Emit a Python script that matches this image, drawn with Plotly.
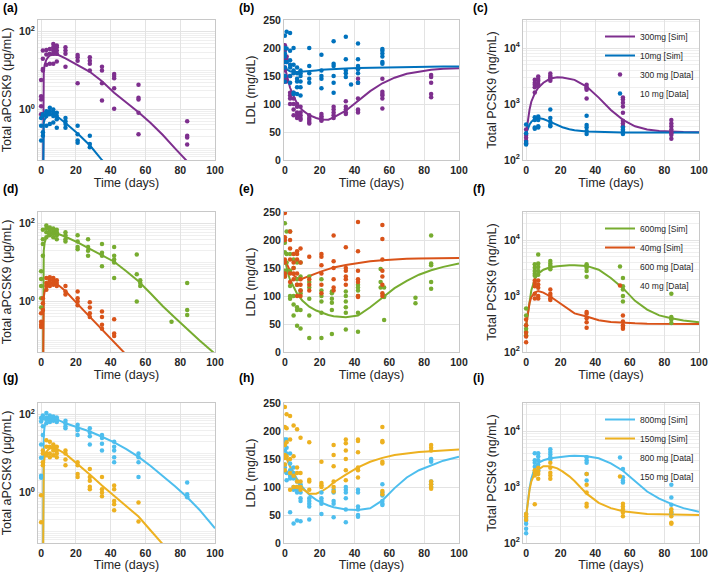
import plotly.graph_objects as go
from plotly.subplots import make_subplots

# ---------------- colours (MATLAB defaults) ----------------
C_PURPLE = "#7E2F8E"
C_BLUE = "#0072BD"
C_GREEN = "#77AC30"
C_ORANGE = "#D95319"
C_LBLUE = "#4DBEEE"
C_YELLOW = "#EDB120"

# ---------------- simulated curves ----------------
SIM_T_A = [0.95, 1.2, 1.5, 2, 3, 4, 5, 7, 10, 14, 21, 28, 35, 42, 49, 56, 63, 70, 77, 84, 91, 100]
SIM_A_300 = [0.001, 5, 9, 14, 19, 22, 24.5, 26, 25, 20.5, 14, 9.3, 5.3, 2.7, 1.5, 0.85, 0.45, 0.22, 0.1, 0.045, 0.02, 0.008]
SIM_A_10 = [0.001, 0.3, 0.45, 0.55, 0.65, 0.72, 0.75, 0.74, 0.62, 0.45, 0.24, 0.12, 0.05, 0.024, 0.01, 0.005, 0.002, 0.001, 0.001, 0.001, 0.001, 0.001]
SIM_A_600 = [0.001, 10, 20, 32, 45, 52, 55, 57, 54, 46, 33, 22.5, 15.5, 10.5, 6, 3.3, 1.6, 0.75, 0.38, 0.19, 0.1, 0.045]
SIM_A_40 = [0.001, 0.8, 1.3, 1.8, 2.4, 2.8, 2.95, 3.0, 2.6, 1.85, 0.85, 0.4, 0.19, 0.092, 0.043, 0.02, 0.01, 0.005, 0.002, 0.001, 0.001, 0.001]
SIM_A_800 = [0.001, 15, 30, 50, 68, 75, 78, 78, 72, 60, 47, 37, 27, 19.5, 13, 8.2, 4.8, 2.7, 1.45, 0.75, 0.36, 0.12]
SIM_A_150 = [0.001, 3, 5, 8, 11, 12.5, 13.5, 14, 12.5, 9.8, 5.4, 2.9, 1.5, 0.82, 0.45, 0.24, 0.105, 0.046, 0.02, 0.009, 0.004, 0.002]

SIM_T_L = [0, 1, 2, 3, 5, 7, 10, 14, 18, 21, 25, 28, 35, 42, 49, 56, 63, 70, 77, 84, 91, 100]
SIM_L_300 = [165, 152, 140, 129, 114, 101, 89, 80, 75, 72.5, 72, 76, 88, 106, 123, 137, 147, 154, 158, 161, 163, 164]
SIM_L_10 = [165, 162, 160, 158.5, 157, 157, 157.5, 159, 160, 161, 162, 162.5, 163.5, 164.5, 165, 165.5, 166, 166.5, 166.7, 167, 167, 167]
SIM_L_40 = [165, 158, 151, 145, 137, 132, 131, 136, 140, 144, 148, 151, 155.5, 159, 162, 164, 165.5, 166.5, 167, 167.5, 168, 168]
SIM_L_600 = [165, 150, 138, 129, 115, 104, 92, 81, 74, 70, 66, 64, 62, 65, 80, 97, 114, 127, 138, 146, 152, 158]
SIM_L_150 = [158, 150, 143, 136, 123, 111, 97, 88, 88, 92, 100, 108, 122, 135, 145, 152, 157, 160, 162.5, 164, 165.5, 167]
SIM_L_800 = [160, 152, 145, 138, 126, 114, 100, 86, 77, 72, 67, 64, 60, 59, 62, 76, 98, 117, 130, 139, 147, 154]

SIM_T_P = [0, 1, 2, 3, 5, 7, 10, 14, 18, 21, 25, 28, 35, 42, 49, 56, 63, 70, 77, 84, 91, 100]
SIM_P_300 = [300, 500, 800, 1100, 1550, 1950, 2400, 2850, 3000, 2980, 2850, 2700, 2050, 1300, 780, 520, 400, 350, 330, 320, 315, 312]
SIM_P_10 = [300, 370, 430, 480, 540, 560, 540, 480, 420, 385, 355, 340, 322, 315, 312, 310, 310, 310, 310, 310, 310, 310]
SIM_P_600 = [300, 500, 850, 1250, 2000, 2500, 2950, 3250, 3400, 3480, 3530, 3550, 3450, 2950, 2100, 1380, 820, 570, 450, 400, 365, 340]
SIM_P_40 = [300, 500, 750, 950, 1150, 1230, 1150, 980, 800, 680, 560, 490, 430, 370, 345, 332, 325, 320, 318, 316, 315, 315]
SIM_P_800 = [300, 550, 950, 1400, 2200, 2700, 3000, 3250, 3400, 3500, 3580, 3600, 3550, 3250, 2650, 1950, 1250, 830, 620, 500, 420, 360]
SIM_P_150 = [300, 550, 900, 1250, 1750, 2050, 2350, 2350, 2150, 1900, 1550, 1280, 760, 520, 420, 370, 345, 330, 325, 320, 318, 316]

# ---------------- observed data (time -> values) ----------------
DAT_A_300 = {0: [5.7, 2.2, 1.8, 1.2, 0.75], 1: [33, 20, 10, 11], 3: [34, 26, 14], 5: [36, 27, 15],
             7: [48, 40, 33, 27, 15], 9: [44, 40, 33, 27, 17], 14: [40, 33, 27, 12.5], 21: [25, 22, 18, 4.7],
             28: [22, 18, 15, 10], 35: [12.5, 10, 4.7, 1.7], 42: [8.2, 7.2, 6.3, 3.5, 1.04],
             56: [4.3, 2.0, 1.8, 0.82, 0.23], 84: [0.5, 0.21, 0.19, 0.125]}
DAT_A_10 = {0: [0.16, 0.38, 0.6], 1: [0.75, 0.68, 0.26, 0.21], 3: [0.9, 0.82, 0.68, 0.38],
            5: [1.1, 0.9, 0.75, 0.42], 7: [1.0, 0.82, 0.68, 0.46], 9: [0.82, 0.68, 0.56, 0.34],
            14: [0.6, 0.5, 0.42, 0.34], 21: [0.38, 0.23, 0.16, 0.14], 28: [0.21, 0.13, 0.107]}
DAT_A_600 = {0: [6.0, 3.8, 2.5, 1.2, 0.7], 1: [70, 40, 30, 15], 3: [90, 75, 60, 45], 5: [80, 70, 60, 50],
             7: [75, 65, 55, 45], 9: [70, 60, 50, 40], 14: [60, 50, 40, 35], 21: [50, 35, 25, 22],
             27: [40, 25, 20, 15], 35: [30, 18, 15, 8], 42: [25, 15, 12, 10, 4], 55: [16, 5, 1.0],
             57: [3.5, 3, 2.5], 75: [0.3], 84: [3, 0.6, 0.45]}
DAT_A_40 = {0: [0.5, 0.3, 0.25, 0.22], 1: [1.2, 0.9, 0.6], 3: [4, 3, 2.5, 2], 5: [4.2, 3.5, 3, 2.5],
            7: [4, 3.5, 3, 2.7], 9: [3.5, 3, 2.5], 14: [2.5, 1.8, 1.5], 21: [1.8, 1.2, 1.0, 0.8],
            28: [0.95, 0.7, 0.5, 0.4], 35: [0.55, 0.4, 0.25, 0.2], 42: [0.35, 0.15, 0.13]}
DAT_A_800 = {0: [82, 67, 17, 7.8, 2.7, 2.4], 1: [95, 80, 50, 30], 3: [110, 85, 75, 60], 5: [95, 80, 70, 65],
             7: [90, 80, 75, 70], 9: [85, 75, 70, 65], 14: [70, 60, 50, 45], 21: [55, 45, 40, 30],
             28: [45, 35, 28, 17], 35: [30, 25, 18, 12], 42: [20, 15, 12, 8, 6], 56: [10, 8, 6, 2.5],
             84: [1.8, 0.9, 0.75, 0.8]}
DAT_A_150 = {0: [0.85, 0.17], 1: [12, 10, 6, 5], 3: [22, 15, 10, 9], 5: [20, 15, 10, 8], 7: [17, 14, 12, 9],
             9: [15, 12, 10, 8], 14: [12, 10, 7, 5], 21: [6, 5, 3, 2.5], 28: [4, 2.5, 2, 1.4, 1.2],
             35: [2.5, 1.2, 1.0, 0.8], 42: [1.5, 1.2, 0.6, 0.5, 0.35], 56: [0.55, 0.18]}

DAT_L_300 = {0: [205, 195, 185, 180, 175, 165, 160, 150, 145, 140], 1: [185, 180, 175, 140],
             3: [150, 120, 115, 110, 100], 5: [120, 110, 100, 90, 80], 7: [100, 95, 85, 80, 75],
             9: [95, 85, 80, 75, 72], 14: [80, 75, 72, 68, 65], 21: [82, 78, 75, 72, 70],
             28: [95, 90, 85, 80, 75], 35: [105, 95, 90, 85, 82], 42: [145, 138, 110, 90, 88, 85],
             56: [145, 122, 118, 115, 110, 92], 84: [152, 148, 138, 118, 112]}
DAT_L_10 = {0: [222, 200, 190, 185, 175, 165, 150, 140], 1: [229, 199, 175], 3: [227, 195, 178, 170, 165, 150, 138],
            5: [200, 170, 160, 155, 120, 118], 7: [165, 155, 145, 140, 130, 118], 9: [160, 155, 150, 140, 130, 115],
            14: [200, 168, 155, 145, 138], 21: [188, 160, 150, 145, 128], 28: [212, 172, 168, 150, 138, 120],
            35: [220, 180, 160, 155, 148], 38: [135], 42: [208, 180, 168, 162, 155, 138],
            56: [198, 195, 190, 185, 175, 172]}
DAT_L_40 = {0: [248, 205, 200, 165, 160, 140, 135], 3: [215, 200, 185, 165, 140, 125], 5: [175, 160, 150, 140, 130],
            7: [180, 175, 165, 140, 120, 100], 9: [185, 160, 130, 120, 110, 100], 14: [170, 130, 120, 110],
            21: [175, 170, 155, 140, 120, 105], 28: [208, 162, 150, 130, 115, 110], 35: [187, 150, 145, 135, 130, 120],
            42: [232, 180, 145, 130, 125, 100, 98], 56: [227, 202, 165, 145, 135, 120, 105, 100]}
DAT_L_600 = {0: [230, 195, 178, 160, 145, 140, 135], 1: [215, 175, 160, 145], 3: [215, 175, 145, 118, 100, 95],
             5: [165, 150, 100, 85, 65], 7: [160, 130, 120, 80, 75, 47], 9: [160, 135, 110, 105, 75, 42],
             14: [135, 125, 115, 95, 65, 25], 21: [130, 110, 100, 90, 70, 25], 27: [108, 105, 95, 88, 75, 32],
             35: [108, 100, 90, 80, 70, 40], 42: [120, 115, 110, 100, 70, 36], 55: [148, 125, 115],
             57: [115, 100, 98, 57], 75: [97, 87], 84: [208, 158, 155, 125, 113]}
DAT_L_150 = {0: [243, 207, 175, 157, 152, 140, 130], 1: [230, 205, 180, 155], 3: [227, 185, 150, 125, 95],
             5: [210, 155, 120, 100], 7: [203, 135, 125, 110, 100], 9: [188, 125, 110, 100, 95],
             14: [180, 113, 110, 95], 21: [145, 107, 103, 100], 28: [175, 157, 137, 110, 100, 92],
             35: [185, 178, 165, 150, 130, 112], 42: [185, 182, 162, 135, 130, 117],
             56: [207, 182, 180, 145, 142, 93, 87], 84: [175, 170, 165, 110, 105, 100, 97]}
DAT_L_800 = {0: [185, 182, 175, 165, 140, 135, 128], 1: [185, 170, 160, 125, 112], 3: [160, 142, 130, 120, 115, 55],
             5: [135, 125, 115, 100, 95, 35], 7: [110, 100, 95, 90, 40], 9: [105, 100, 90, 80, 75, 39],
             14: [80, 75, 70, 65, 42], 21: [90, 80, 75, 70, 52], 28: [95, 90, 75, 70, 46],
             35: [100, 95, 90, 80, 60, 37], 42: [95, 90, 65, 60, 50, 47], 56: [105, 90, 85, 75, 70, 68],
             84: [150, 148, 145, 110, 105, 100]}

DAT_P_300 = {0: [350, 280, 250, 220, 200], 5: [2700, 2400, 2200, 2000, 1600], 7: [3100, 2800, 2600, 2300, 2100],
             14: [3500, 3200, 3000, 2800, 2600], 35: [2200, 2000, 1900, 1800, 1250],
             56: [1300, 1200, 1050, 900, 700, 500, 450, 400], 84: [520, 450, 400, 350, 320, 300, 280, 240]}
DAT_P_10 = {0: [430, 300, 210, 190], 5: [580, 520, 380, 360], 7: [600, 560, 520, 400, 380],
            14: [800, 560, 480, 420, 400], 35: [620, 420, 380, 330, 290], 56: [380, 350, 330, 310, 290]}
DAT_P_600 = {0: [600, 450, 300, 260, 230, 200], 5: [3700, 3200, 2800, 2500, 2300], 7: [5500, 3800, 3300, 2800, 2400],
             14: [4200, 3800, 3500, 3200, 3000], 35: [3700, 3400, 3200, 2800, 2200],
             56: [2100, 1500, 1300, 1000, 800], 84: [1100, 420, 400, 380, 330]}
DAT_P_40 = {0: [380, 300, 220, 190, 150], 5: [1900, 1700, 1500, 1100, 900], 7: [1900, 1600, 1400, 1000, 900],
            14: [1300, 1100, 1000, 900, 850], 35: [520, 480, 400, 340, 270], 56: [450, 350, 300, 280, 260]}
DAT_P_800 = {0: [330, 280, 250, 220, 180, 150], 5: [4000, 3000, 2700, 2300, 1800], 7: [4000, 3500, 3000, 2500, 2000],
             14: [4700, 4200, 3800, 3400, 3100], 35: [3400, 3000, 2700, 1700, 1300], 56: [2100, 1500, 1300, 1200],
             84: [1100, 650, 480, 360, 330]}
DAT_P_150 = {0: [330, 300, 260], 5: [490, 2000, 1800, 1600], 7: [2200, 1900, 1700, 1400],
             14: [2700, 2200, 1800, 1600, 1400], 35: [1700, 1100, 800, 500, 450], 56: [500, 450, 400, 350, 300],
             84: [400, 350, 300, 230, 220]}

DOSES = [("300", "10", C_PURPLE, C_BLUE), ("600", "40", C_GREEN, C_ORANGE), ("800", "150", C_LBLUE, C_YELLOW)]
YTITLES = ["Total aPCSK9 (μg/mL)", "LDL (mg/dL)", "Total PCSK9 (ng/mL)"]
PANEL_LABELS = ["(a)", "(b)", "(c)", "(d)", "(e)", "(f)", "(g)", "(h)", "(i)"]

SIMS = {
    (1, 1): (SIM_T_A, SIM_A_300, SIM_A_10, DAT_A_300, DAT_A_10),
    (1, 2): (SIM_T_L, SIM_L_300, SIM_L_10, DAT_L_300, DAT_L_10),
    (1, 3): (SIM_T_P, SIM_P_300, SIM_P_10, DAT_P_300, DAT_P_10),
    (2, 1): (SIM_T_A, SIM_A_600, SIM_A_40, DAT_A_600, DAT_A_40),
    (2, 2): (SIM_T_L, SIM_L_600, SIM_L_40, DAT_L_600, DAT_L_40),
    (2, 3): (SIM_T_P, SIM_P_600, SIM_P_40, DAT_P_600, DAT_P_40),
    (3, 1): (SIM_T_A, SIM_A_800, SIM_A_150, DAT_A_800, DAT_A_150),
    (3, 2): (SIM_T_L, SIM_L_800, SIM_L_150, DAT_L_800, DAT_L_150),
    (3, 3): (SIM_T_P, SIM_P_800, SIM_P_150, DAT_P_800, DAT_P_150),
}


def expand(d):
    xs, ys = [], []
    for t, vals in d.items():
        for v in vals:
            xs.append(t)
            ys.append(v)
    return xs, ys


W, H = 709, 572
FONT = "Liberation Sans, Arial, Helvetica, sans-serif"
XDOM = {1: [38 / W, 215 / W], 2: [284 / W, 459 / W], 3: [523 / W, 699 / W]}
YDOM = {1: [1 - 160 / H, 1 - 20 / H], 2: [1 - 352 / H, 1 - 212 / H], 3: [1 - 543 / H, 1 - 403 / H]}

fig = make_subplots(rows=3, cols=3)

legend_names = {1: "legend", 2: "legend2", 3: "legend3"}

for (r, c), (st, s_hi, s_lo, d_hi, d_lo) in SIMS.items():
    hi, lo, col_hi, col_lo = DOSES[r - 1]
    show = c == 3
    lg = legend_names[r]
    fig.add_trace(go.Scatter(x=st, y=s_hi, mode="lines", line=dict(color=col_hi, width=2),
                             name=f"{hi}mg [Sim]", showlegend=show, legend=lg), row=r, col=c)
    fig.add_trace(go.Scatter(x=st, y=s_lo, mode="lines", line=dict(color=col_lo, width=2),
                             name=f"{lo}mg [Sim]", showlegend=show, legend=lg), row=r, col=c)
    xh, yh = expand(d_hi)
    xl, yl = expand(d_lo)
    fig.add_trace(go.Scatter(x=xh, y=yh, mode="markers", marker=dict(color=col_hi, size=4.5),
                             name=f"{hi} mg [Data]", showlegend=show, legend=lg), row=r, col=c)
    fig.add_trace(go.Scatter(x=xl, y=yl, mode="markers", marker=dict(color=col_lo, size=4.5),
                             name=f"{lo} mg [Data]", showlegend=show, legend=lg), row=r, col=c)

GRID = "#e3e3e3"
MINOR = "#efefef"
LINE = "#c8c8c8"
TICKFONT = dict(family=FONT, size=10.5, color="#262626", weight="bold")
TITLEFONT = dict(family=FONT, size=12.5, color="#262626")

minorA = [k * 10 ** e for e in range(-2, 3) for k in range(1, 10) if k * 10 ** e not in (1, 100)]
minorP = [k * 10 ** e for e in range(2, 5) for k in range(1, 10) if k * 10 ** e not in (100, 1000, 10000)]

for r in (1, 2, 3):
    for c in (1, 2, 3):
        idx = (r - 1) * 3 + c
        xa = "xaxis" if idx == 1 else f"xaxis{idx}"
        ya = "yaxis" if idx == 1 else f"yaxis{idx}"
        xrange = [-0.5, 100] if c == 2 else [-1.8, 100]
        fig.layout[xa].update(domain=XDOM[c], range=xrange, tickmode="array", tickvals=[0, 20, 40, 60, 80, 100],
                              showgrid=True, gridcolor=GRID, zeroline=False, showline=True, mirror=True,
                              linecolor=LINE, linewidth=1, ticks="", tickfont=TICKFONT, automargin=False,
                              ticklabeloverflow="allow",
                              title=dict(text="Time (days)", font=TITLEFONT, standoff=0))
        common = dict(domain=YDOM[r], showgrid=True, gridcolor=GRID, zeroline=False, showline=True, mirror=True,
                      linecolor=LINE, linewidth=1, ticks="", tickfont=TICKFONT, automargin=False,
                      ticklabeloverflow="allow",
                      title=dict(text=YTITLES[c - 1], font=TITLEFONT, standoff=4))
        if c == 1:
            fig.layout[ya].update(type="log", range=[-1.3, 2.3], tickmode="array", tickvals=[1, 100],
                                  ticktext=["10<sup>0</sup>", "10<sup>2</sup>"],
                                  minor=dict(tickmode="array", tickvals=minorA, showgrid=True, gridcolor=MINOR, ticks=""),
                                  **common)
        elif c == 2:
            fig.layout[ya].update(range=[0, 250], tickmode="array", tickvals=[0, 50, 100, 150, 200, 250], **common)
        else:
            fig.layout[ya].update(type="log", range=[2, 4.5], tickmode="array", tickvals=[100, 1000, 10000],
                                  ticktext=["10<sup>2</sup>", "10<sup>3</sup>", "10<sup>4</sup>"],
                                  minor=dict(tickmode="array", tickvals=minorP, showgrid=True, gridcolor=MINOR, ticks=""),
                                  **common)

LEG_Y = {1: 1 - 22 / H, 2: 1 - 214 / H, 3: 1 - 405 / H}
legend_style = dict(x=699 / W, xanchor="right", yanchor="top", bgcolor="rgba(255,255,255,0)",
                    font=dict(family=FONT, size=8.5, color="#262626"), itemwidth=30, tracegroupgap=0)
fig.update_layout(
    legend=dict(y=LEG_Y[1], **legend_style),
    legend2=dict(y=LEG_Y[2], **legend_style),
    legend3=dict(y=LEG_Y[3], **legend_style),
)

label_pos = {1: 0, 2: 236, 3: 470}
label_y = {1: 8, 2: 189, 3: 378}
for i, lab in enumerate(PANEL_LABELS):
    r, c = i // 3 + 1, i % 3 + 1
    fig.add_annotation(text=f"<b>{lab}</b>", xref="paper", yref="paper", x=(label_pos[c] + 1) / W,
                       y=1 - label_y[r] / H, xanchor="left", yanchor="middle", showarrow=False,
                       font=dict(family=FONT, size=12, color="#000000"))

fig.update_layout(width=W, height=H, margin=dict(l=0, r=0, t=0, b=0), paper_bgcolor="white",
                  plot_bgcolor="white", font=dict(family=FONT))

fig.write_html("out.html", config={"displayModeBar": False},
               post_script="document.body.style.margin='0';document.body.style.padding='0';"
                           "document.body.style.overflow='hidden';")
